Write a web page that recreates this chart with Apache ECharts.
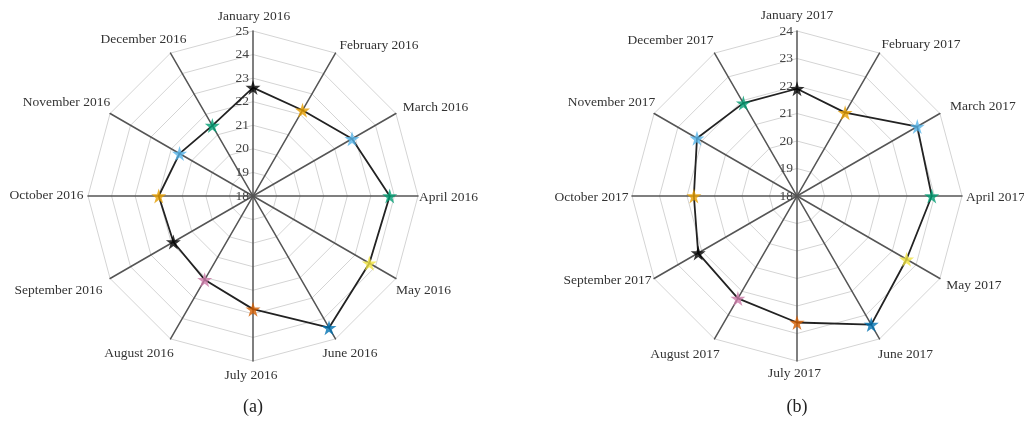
<!DOCTYPE html>
<html>
<head>
<meta charset="utf-8">
<style>
  html, body { margin: 0; padding: 0; background: #fff; }
  #main { width: 1024px; height: 421px; }
</style>
</head>
<body>
<div id="main"></div>
<script src="https://cdn.jsdelivr.net/npm/echarts@6/dist/echarts.min.js"></script>
<script type="text/javascript">
    var months2016 = ['January 2016', 'February 2016', 'March 2016', 'April 2016', 'May 2016', 'June 2016',
                      'July 2016', 'August 2016', 'September 2016', 'October 2016', 'November 2016', 'December 2016'];
    var months2017 = ['January 2017', 'February 2017', 'March 2017', 'April 2017', 'May 2017', 'June 2017',
                      'July 2017', 'August 2017', 'September 2017', 'October 2017', 'November 2017', 'December 2017'];
    var values2016 = [22.6, 22.2, 22.85, 23.8, 23.7, 24.45, 22.8, 22.1, 21.9, 22.0, 21.6, 21.45];
    var values2017 = [21.9, 21.5, 23.05, 22.9, 22.6, 23.4, 22.6, 22.3, 22.15, 21.75, 22.2, 21.9];
    var starColors = ['#000000', '#E69F00', '#56B4E9', '#009E73', '#F0E442', '#0072B2',
                      '#D55E00', '#CC79A7', '#000000', '#E69F00', '#56B4E9', '#009E73'];
    var range2016 = [18, 25];
    var range2017 = [18, 24];
    var panelLabels = ['(a)', '(b)'];

    // where each month name sits, relative to the tip of its spoke (px)
    var nameOffsets2016 = [[1, -15], [43.5, -8], [39.6, -6.5], [30.5, 1], [27.6, 11.5], [14.5, 15],
                           [-2, 14], [-31.5, 15], [-51.6, 11.5], [-41.5, -1], [-43.6, -11.5], [-27, -14]];
    var nameOffsets2017 = [[0, -16], [41.5, -9], [43, -7.5], [33.5, 1], [34, 6.5], [26, 16],
                           [-2.5, 12], [-29.5, 16], [-46.6, 1.5], [-40.5, 1], [-42.6, -11.5], [-44, -13]];

    var serif = '"Liberation Serif", "DejaVu Serif", serif';
    var star = 'path://M50,0 L61,35 L98,35 L68,57 L79,91 L50,70 L21,91 L32,57 L2,35 L39,35 Z';
    var centers = [[253, 196], [797, 196]];
    var R = 165;

    // radar goes counter-clockwise, so feed it January then December ... February
    var order = [0, 11, 10, 9, 8, 7, 6, 5, 4, 3, 2, 1];

    // padding that moves a centred box by (dx, dy)
    function pad(off) {
        var dx = off[0], dy = off[1];
        return [Math.max(0, 2 * dy), Math.max(0, -2 * dx), Math.max(0, -2 * dy), Math.max(0, 2 * dx)];
    }

    function radarOf(months, range, offsets, c) {
        return {
            center: c,
            radius: R,
            startAngle: 90,
            shape: 'polygon',
            splitNumber: range[1] - range[0],
            indicator: order.map(function (i) {
                return {
                    name: months[i], min: range[0], max: range[1],
                    nameTextStyle: {
                        align: 'center', verticalAlign: 'middle',
                        rich: { m: { fontFamily: serif, fontSize: 13.5, color: '#333', padding: pad(offsets[i]) } }
                    }
                };
            }),
            axisName: {
                color: '#333', fontFamily: serif, fontSize: 13.5,
                formatter: function (name) { return '{m|' + name + '}'; }
            },
            nameGap: 0,
            axisLine: { lineStyle: { color: '#555', width: 1.5 } },
            splitLine: { lineStyle: { color: '#d4d4d4', width: 1 } },
            splitArea: { show: false },
            axisTick: { show: false },
            axisLabel: { show: false }
        };
    }

    function lineOf(values, idx) {
        return {
            type: 'radar',
            radarIndex: idx,
            symbol: 'none',
            lineStyle: { color: '#222', width: 1.8 },
            data: [{ value: order.map(function (i) { return values[i]; }) }],
            silent: true
        };
    }

    function starsOf(values, months, idx) {
        return {
            type: 'scatter',
            coordinateSystem: 'polar',
            polarIndex: idx,
            symbol: star,
            symbolSize: 15,
            data: values.map(function (v, i) {
                return { value: [v, months[i]], itemStyle: { color: starColors[i] } };
            }),
            z: 5
        };
    }

    function tickAxis(range, idx) {
        return {
            type: 'value', gridIndex: idx, position: 'left',
            min: range[0], max: range[1], interval: 1,
            axisLine: { show: false }, axisTick: { show: false }, splitLine: { show: false },
            axisLabel: { color: '#444', fontFamily: serif, fontSize: 13.5, margin: 4 }
        };
    }

    var myChart = echarts.init(document.getElementById('main'));
    var option = {
        animation: false,
        radar: [
            radarOf(months2016, range2016, nameOffsets2016, centers[0]),
            radarOf(months2017, range2017, nameOffsets2017, centers[1])
        ],
        polar: [{ center: centers[0], radius: R }, { center: centers[1], radius: R }],
        angleAxis: [
            { polarIndex: 0, type: 'category', data: months2016, startAngle: 90, clockwise: true, boundaryGap: false, show: false },
            { polarIndex: 1, type: 'category', data: months2017, startAngle: 90, clockwise: true, boundaryGap: false, show: false }
        ],
        radiusAxis: [
            { polarIndex: 0, min: range2016[0], max: range2016[1], show: false },
            { polarIndex: 1, min: range2017[0], max: range2017[1], show: false }
        ],
        grid: [
            { left: centers[0][0], top: centers[0][1] - R, width: 1, height: R },
            { left: centers[1][0], top: centers[1][1] - R, width: 1, height: R }
        ],
        xAxis: [
            { type: 'value', gridIndex: 0, show: false },
            { type: 'value', gridIndex: 1, show: false }
        ],
        yAxis: [tickAxis(range2016, 0), tickAxis(range2017, 1)],
        graphic: panelLabels.map(function (t, k) {
            return {
                type: 'text', x: centers[k][0], y: 407,
                style: { text: t, align: 'center', verticalAlign: 'middle', fill: '#222', font: '18px ' + serif }
            };
        }),
        series: [
            lineOf(values2016, 0), lineOf(values2017, 1),
            starsOf(values2016, months2016, 0), starsOf(values2017, months2017, 1)
        ]
    };

    myChart.setOption(option);
</script>
</body>
</html>
